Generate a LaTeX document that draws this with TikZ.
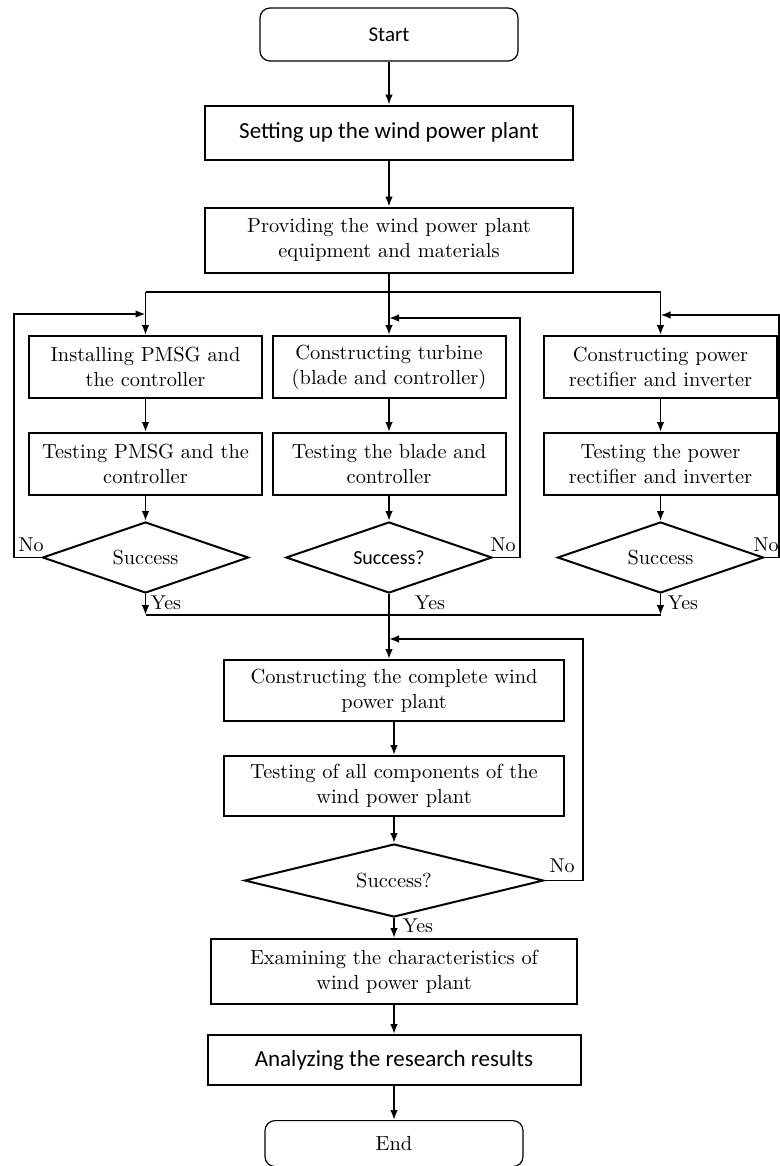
\documentclass[tikz,border=0pt]{standalone}
\usepackage{fontspec}
\newfontfamily\calibri{Carlito}
\usetikzlibrary{shapes.geometric, arrows.meta, positioning}
\tikzset{
>={Latex[length=5pt,width=3.8pt]}, % small filled arrow heads
every node/.style={font=\fontsize{10.2}{12.5}\selectfont},
terminal/.style={draw, rounded corners=5pt, line width=0.6pt, minimum width=129pt, minimum height=26.5pt, inner sep=0pt},
process/.style={draw, line width=1pt, align=center, inner sep=0pt, minimum width=116.5pt, minimum height=31pt},
decision/.style={draw, diamond, line width=1pt, inner sep=0pt, aspect=2.9, minimum width=103pt, minimum height=35.5pt},
yesno/.style={inner sep=0pt, font=\fontsize{10}{12}\selectfont},
}

\begin{document}
\begin{tikzpicture}[x=0.5pt, y=-0.5pt, line width=0.85pt]
      \useasboundingbox (0,0) rectangle (780,1166);

      % top part
      \node[terminal, font=\calibri\fontsize{10.5}{12.5}\selectfont] (start) at (389,34.5) {Start};
      \node[process, below=21.5pt of start, minimum width=184pt, minimum height=27pt, font=\calibri\fontsize{11.5}{13}\selectfont] (setup) {Setting up the wind power plant};
      \node[process, below=23pt of setup, minimum width=184pt, minimum height=32.5pt] (provide) {Providing the wind power plant\\equipment and materials};

      % three branches
      \node[process] (inst) at (145.5,367) {Installing PMSG and\\the controller};
      \node[process] (turb) at (389,367) {Constructing turbine\\(blade and controller)};
      \node[process] (rect) at (660.5,367) {Constructing power\\rectifier and inverter};
      \node[process, below=16.5pt of inst] (testp) {Testing PMSG and the\\controller};
      \node[process, below=16.5pt of turb] (testb) {Testing the blade and\\controller};
      \node[process, below=16.5pt of rect] (testr) {Testing the power\\rectifier and inverter};
      \node[decision, below=12.5pt of testp] (dec1) {Success};
      \node[decision, below=12.5pt of testb, font=\calibri\fontsize{10}{12}\selectfont] (dec2) {Success?};
      \node[decision, below=12.5pt of testr] (dec3) {Success};

      % whole plant
      \node[process, minimum width=170pt, minimum height=30.5pt] (build) at (394,690.5) {Constructing the complete wind\\power plant};
      \node[process, below=16.5pt of build, minimum width=170pt, minimum height=30pt] (testall) {Testing of all components of the\\wind power plant};
      \node[decision, below=13pt of testall, aspect=4.1, minimum width=149.5pt, minimum height=36.5pt] (dec4) {Success?};
      \node[process, minimum width=183pt, minimum height=32.5pt] (exam) at (394,971.5) {Examining the characteristics of\\wind power plant};
      \node[process, below=14.5pt of exam, minimum width=186.5pt, minimum height=25pt, font=\calibri\fontsize{11.5}{13}\selectfont] (anal) {Analyzing the research results};
      \node[terminal, below=17pt of anal, minimum height=23pt] (finish) {End};

      \coordinate (split) at (389,292);
      \coordinate (join) at (389,615);
      \coordinate (noL) at (14,314);
      \coordinate (noM) at (520,318);
      \coordinate (noR) at (779,315);
      \coordinate (noB) at (583,639);

      \draw[->] (start) -- (setup);
      \draw[->] (setup) -- (provide);
      \draw (provide) -- (split);
      \draw (inst |- split) -- (rect |- split);
      \draw[->] (inst |- split) -- (inst);
      \draw[->] (split) -- (turb);
      \draw[->] (rect |- split) -- (rect);
      \draw[->] (inst) -- (testp);
      \draw[->] (turb) -- (testb);
      \draw[->] (rect) -- (testr);
      \draw[->] (testp) -- (dec1);
      \draw[->] (testb) -- (dec2);
      \draw[->] (testr) -- (dec3);

      % loops back on failure
      \draw[->] (dec1.west) -| (noL) -- (inst |- noL);
      \draw[->] (dec2.east) -| (noM) -- (turb |- noM);
      \draw[->] (dec3.east) -| (noR) -- (rect |- noR);

      \draw[->] (dec1.south) -- (dec1.south |- join);
      \draw[->] (dec3.south) -- (dec3.south |- join);
      \draw (dec1.south |- join) -- (dec3.south |- join);
      \draw[->] (dec2.south) -- (dec2.south |- build.north);
      \draw[->] (build) -- (testall);
      \draw[->] (testall) -- (dec4);
      \draw[->] (dec4.east) -| (noB) -- (dec2.south |- noB);
      \draw[->] (dec4) -- (exam);
      \draw[->] (exam) -- (anal);
      \draw[->] (anal) -- (finish);

      \node[yesno] (no1) at (31,545) {No};
      \node[yesno] (no2) at (503,545) {No};
      \node[yesno] (no3) at (766,545) {No};
      \node[yesno] (no4) at (562,866) {No};
      \node[yesno] (yes1) at (166,603) {Yes};
      \node[yesno] (yes2) at (430,603) {Yes};
      \node[yesno] (yes3) at (683,603) {Yes};
      \node[yesno] (yes4) at (418,926) {Yes};
\end{tikzpicture}
\end{document}
